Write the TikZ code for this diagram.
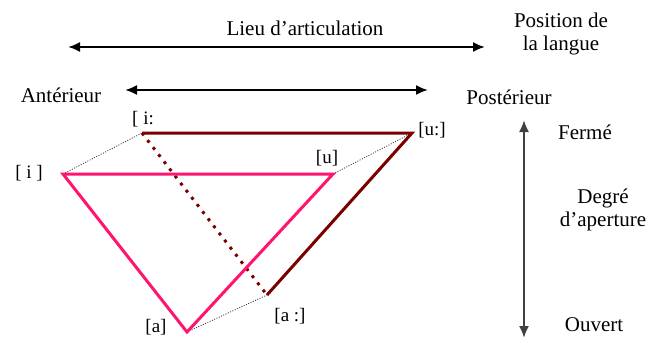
\documentclass[tikz,border=0pt]{standalone}
\usepackage{fontspec}
\setmainfont{Liberation Serif}
\usetikzlibrary{arrows.meta,positioning}
\definecolor{vpink}{RGB}{255,20,112}
\definecolor{vmaroon}{RGB}{122,0,0}
\definecolor{axgray}{RGB}{64,64,64}
\begin{document}
\begin{tikzpicture}[x=1pt,y=-1pt,>=Latex,every node/.style={font=\fontsize{21}{23}\selectfont,inner sep=1pt},lbl/.style={align=center},vowel/.style={font=\fontsize{19}{21}\selectfont},axis/.style={<->,line width=2pt,>={Latex[length=12pt,width=10pt]}},short/.style={draw=vpink,line width=3pt,line join=miter},long/.style={draw=vmaroon,line width=3pt,line join=miter},longdot/.style={draw=vmaroon,line width=3pt,dash pattern=on 3pt off 6pt},link/.style={draw=black!80,line width=0.8pt,dash pattern=on 1pt off 1.5pt}]
\useasboundingbox (0,0) rectangle (651,340);
% axes
\coordinate (lieuA) at (68,47);\coordinate (lieuB) at (485,47);
\coordinate (antA) at (125,90);\coordinate (antB) at (428,90);
\coordinate (apA) at (524,120);\coordinate (apB) at (524,338);
\node (lieu) at (305,28) {Lieu d’articulation};
\node[lbl] (pos) at (561,34) {Position de\\la langue};
\node (ant) at (61,95) {Antérieur};
\node (post) at (509,97) {Postérieur};
\node (ferme) at (585,132) {Fermé};
\node[lbl] (degre) at (603,210) {Degré\\d’aperture};
\node (ouvert) at (594,325) {Ouvert};
\draw[axis] (lieuA)--(lieuB);
\draw[axis] (antA)--(antB);
\draw[axis,draw=axgray] (apA)--(apB);
% vowels
\coordinate (iL) at (142,133);\coordinate (uL) at (412,133);\coordinate (aL) at (267,295);
\coordinate (iS) at (63,174);\coordinate (uS) at (333,174);\coordinate (aS) at (187,332);
\node[vowel] (tiL) at (143,119) {[ i:};
\node[vowel] (tuL) at (432,130) {[u:]};
\node[vowel] (taL) at (290,316) {[a :]};
\node[vowel] (tiS) at (29,173) {[ i ]};
\node[vowel] (tuS) at (327,158) {[u]};
\node[vowel] (taS) at (156,327) {[a]};
\draw[link] (iS)--(iL);\draw[link] (uS)--(uL);\draw[link] (aS)--(aL);
\draw[longdot] (iL)--(aL);
\draw[long] (iL)--(uL)--(aL);
\draw[short] (iS)--(uS)--(aS)--cycle;
\end{tikzpicture}
\end{document}
